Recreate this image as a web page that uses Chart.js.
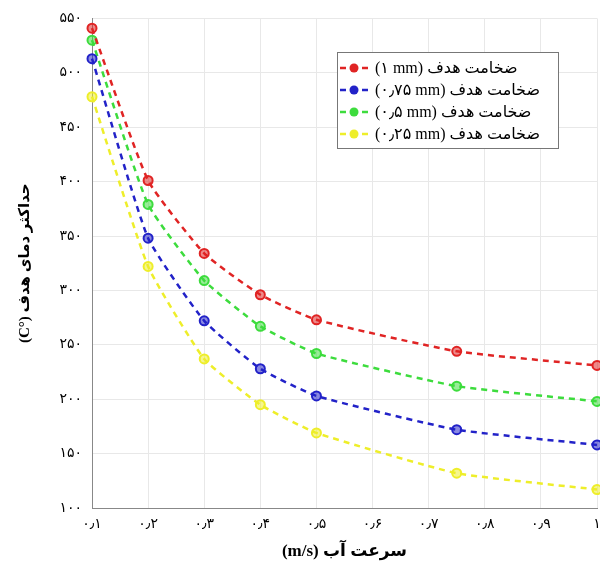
<!DOCTYPE html>
<html>
<head>
<meta charset="utf-8">
<script src="https://cdn.jsdelivr.net/npm/chart.js@4.4.0/dist/chart.umd.min.js"></script>
<style>
  html, body { margin: 0; padding: 0; background: #fff; }
  #wrap { width: 600px; height: 566px; }
</style>
</head>
<body>
<div id="wrap"><canvas id="tempChart" width="600" height="566"></canvas></div>
<script>
// water speed (m/s)
const speeds = [0.1, 0.2, 0.3, 0.4, 0.5, 0.75, 1];
// max target temperature for each target thickness
const thick1 = [541, 401, 334, 296, 273, 244, 231];
const thick075 = [513, 348, 272, 228, 203, 172, 158];
const thick05 = [530, 379, 309, 267, 242, 212, 198];
const thick025 = [478, 322, 237, 195, 169, 132, 117];
const seriesLabels = ['(۱ mm) ضخامت هدف', '(۰٫۷۵ mm) ضخامت هدف', '(۰٫۵ mm) ضخامت هدف', '(۰٫۲۵ mm) ضخامت هدف'];
const seriesColors = ['#e02424', '#2222c8', '#3ddc3d', '#eeee2a'];

const faDigits = '۰۱۲۳۴۵۶۷۸۹';
function toFa(s) {
    return String(s).replace(/[0-9]/g, d => faDigits[d]).replace('.', '٫');
}

const FONT = "'Liberation Serif', 'DejaVu Sans', serif";

function makeSet(values, i) {
    return {
        label: seriesLabels[i],
        data: speeds.map((x, k) => ({ x: x, y: values[k] })),
        borderColor: seriesColors[i],
        backgroundColor: seriesColors[i],
        pointBackgroundColor: seriesColors[i] + '88',
        pointBorderColor: seriesColors[i],
        pointBorderWidth: 2,
        pointRadius: 4.5,
        borderWidth: 2.5,
        borderDash: [6, 5],
        tension: 0.15,
        clip: false
    };
}

// legend box drawn inside the plot, like the original figure
const boxLegend = {
    id: 'boxLegend',
    afterDraw(chart) {
        const c = chart.ctx;
        const x0 = 337, y0 = 52, w = 221, h = 96;
        c.save();
        c.fillStyle = '#fff';
        c.fillRect(x0, y0, w, h);
        c.strokeStyle = '#777';
        c.lineWidth = 1;
        c.strokeRect(x0 + 0.5, y0 + 0.5, w, h);
        chart.data.datasets.forEach((ds, i) => {
            const y = y0 + 16 + i * 22;
            c.strokeStyle = ds.borderColor;
            c.lineWidth = 2.5;
            c.setLineDash([6, 5]);
            c.beginPath();
            c.moveTo(x0 + 3, y);
            c.lineTo(x0 + 33, y);
            c.stroke();
            c.setLineDash([]);
            c.beginPath();
            c.arc(x0 + 17, y, 4.5, 0, Math.PI * 2);
            c.fillStyle = ds.borderColor;
            c.fill();
            c.fillStyle = '#000';
            c.font = "16px " + FONT;
            c.textBaseline = 'middle';
            c.textAlign = 'left';
            c.direction = 'ltr';
            c.fillText(ds.label, x0 + 38, y + 1);
        });
        c.restore();
    }
};

const ctx = document.getElementById('tempChart');
const tempChart = new Chart(ctx, {
    type: 'line',
    data: {
        datasets: [makeSet(thick1, 0), makeSet(thick075, 1), makeSet(thick05, 2), makeSet(thick025, 3)]
    },
    options: {
        responsive: false,
        animation: false,
        layout: { autoPadding: false, padding: { top: 18, right: 3, left: 0, bottom: 0 } },
        plugins: { legend: { display: false }, tooltip: { enabled: false } },
        scales: {
            x: {
                type: 'linear',
                min: 0.1,
                max: 1,
                ticks: {
                    stepSize: 0.1,
                    color: '#000',
                    font: { family: FONT, size: 14 },
                    padding: 8,
                    callback: v => toFa(Number(v.toFixed(1)).toString())
                },
                grid: { color: '#e8e8e8', drawTicks: false },
                border: { color: '#888' },
                title: {
                    display: true,
                    text: '(m/s) سرعت آب',
                    color: '#000',
                    font: { family: FONT, size: 17, weight: 'bold' },
                    padding: { top: 6 }
                },
                afterFit: s => { s.height = 58; s.paddingRight = 0; }
            },
            y: {
                min: 100,
                max: 550,
                ticks: {
                    stepSize: 50,
                    color: '#000',
                    font: { family: FONT, size: 14 },
                    padding: 10,
                    callback: v => toFa(v)
                },
                grid: { color: '#e8e8e8', drawTicks: false },
                border: { color: '#888' },
                title: {
                    display: true,
                    text: '(C°) حداکثر دمای هدف',
                    color: '#000',
                    font: { family: FONT, size: 15, weight: 'bold' },
                    padding: { top: 16, bottom: 4 }
                },
                afterFit: s => { s.width = 92; }
            }
        }
    },
    plugins: [boxLegend]
});
</script>
</body>
</html>
